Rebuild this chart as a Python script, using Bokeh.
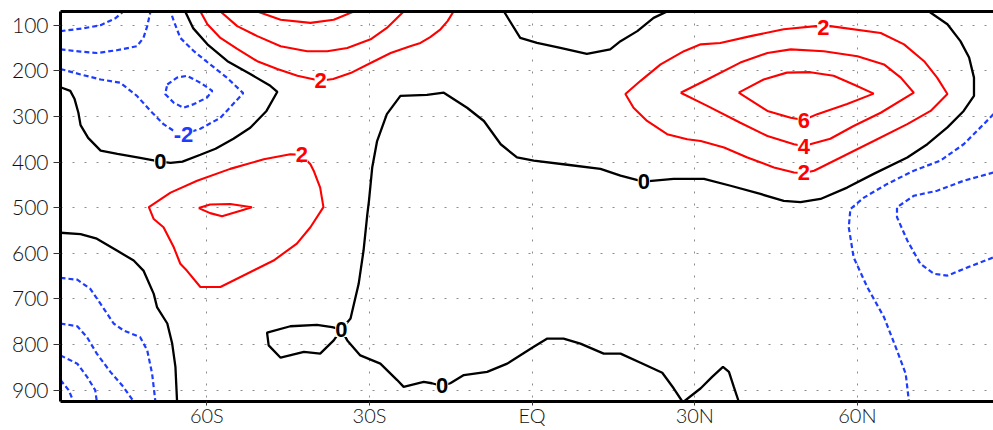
from bokeh.plotting import figure
from bokeh.models import LinearAxis, FixedTicker, Label, Range1d
from bokeh.embed import file_html
from bokeh.resources import INLINE

# ---------------- axes ----------------
lat_ticks = [-60, -30, 0, 30, 60]
lat_labels = ["60S", "30S", "EQ", "30N", "60N"]
lev_ticks = [100, 200, 300, 400, 500, 600, 700, 800, 900]

# ---------------- contour lines (latitude, pressure hPa) ----------------
# negative contours (blue dashed)
neg_a_lat = [-87.0, -82.8, -79.6, -76.9, -75.4]
neg_a_lev = [113, 107, 100, 85, 70]
neg_b_lat = [-87.0, -83.3, -80.3, -76.6, -72.9, -71.7, -71.0, -70.4]
neg_b_lev = [153, 158, 161, 155, 146, 128, 102, 70]
neg2_tl_lat = [-87.0, -83.3, -79.6, -76.0, -72.9, -70.4, -68.0, -65.8, -63.0, -61.2,
               -57.5, -53.3, -56.3, -59.4, -62.4, -64.9, -66.1, -66.7]
neg2_tl_lev = [196, 208, 219, 226, 255, 288, 317, 334, 334, 327,
               303, 249, 215, 186, 157, 128, 91, 70]
neg4_loop_lat = [-67.3, -65.5, -63.7, -61.2, -59.0, -60.0, -62.4, -64.3, -66.1, -67.7, -67.3]
neg4_loop_lev = [230, 215, 211, 226, 244, 259, 273, 281, 270, 251, 230]
neg2_sp_lat = [-87.0, -83.9, -81.5, -79.6, -77.2, -75.4, -72.3, -71.0, -70.1, -69.5]
neg2_sp_lev = [654, 658, 678, 711, 754, 769, 784, 813, 864, 925]
neg4_sp_lat = [-87.0, -83.9, -82.1, -80.3, -77.8, -75.4, -73.5]
neg4_sp_lev = [754, 760, 784, 820, 860, 893, 925]
neg6_sp_lat = [-87.0, -83.9, -82.1, -80.6, -80.3]
neg6_sp_lev = [824, 842, 871, 900, 925]
neg8_sp_lat = [-87.0, -85.5, -84.6]
neg8_sp_lev = [878, 900, 925]
neg_nh1_lat = [85.1, 83.3, 79.6, 75.3, 70.4, 65.5, 61.2, 58.7, 58.4, 59.3, 61.8, 64.9, 67.3, 68.9, 69.5]
neg_nh1_lev = [295, 317, 361, 397, 419, 448, 478, 503, 543, 609, 674, 740, 813, 864, 925]
neg_nh2_lat = [85.1, 79.6, 74.7, 70.4, 67.3, 67.3, 69.2, 71.6, 74.1, 76.6, 80.3, 85.1]
neg_nh2_lev = [423, 441, 463, 474, 499, 521, 572, 623, 645, 649, 631, 609]

# zero contours (black)
zero_tl_lat = [-87.0, -85.2, -84.4, -83.7, -83.3, -81.9, -79.6, -76.5, -72.3, -68.6, -66.7, -64.5,
               -61.2, -58.4, -55.1, -52.0, -49.0, -47.0, -48.3, -52.0, -56.2, -59.9, -62.5, -64.0]
zero_tl_lev = [236, 244, 262, 292, 319, 347, 375, 382, 391, 399, 402, 399,
               384, 371, 349, 325, 288, 246, 233, 207, 179, 142, 107, 70]
zero_sp_lat = [-87.0, -83.3, -80.3, -76.6, -73.5, -71.7, -69.8, -69.2, -67.3, -66.4, -65.8, -65.5]
zero_sp_lev = [555, 558, 568, 594, 616, 638, 689, 718, 754, 798, 849, 925]
zero_big_lat = [-35.2, -33.5, -32.0, -31.1, -30.4, -30.1, -29.5, -28.6, -26.8, -24.3, -19.4, -16.3,
                -12.0, -8.9, -5.8, -2.8, 0.3, 6.5, 12.6, 16.3, 20.5, 26.1, 31.7, 36.6, 42.1, 46.4,
                49.5, 53.2, 58.1, 63.0, 69.2, 72.9, 76.6, 79.6, 81.5, 81.5, 80.6, 79.0, 76.6, 73.2]
zero_big_lev = [767, 743, 667, 594, 514, 485, 412, 354, 295, 255, 253, 248,
                281, 310, 361, 390, 397, 406, 415, 430, 443, 437, 437, 452, 470, 485,
                488, 481, 456, 426, 390, 361, 324, 288, 255, 215, 171, 135, 98, 70]
zero_low_lat = [-35.2, -34.1, -31.7, -28.0, -24.9, -23.7, -20.0, -18.5, -16.6, -15.1, -12.6, -8.3,
                -4.6, 0.3, 2.8, 5.8, 8.9, 13.2, 16.3, 20.0, 24.0, 26.1, 27.7, 28.0, 31.1, 33.2,
                35.2, 36.3, 37.2, 38.1]
zero_low_lev = [767, 791, 824, 842, 878, 893, 882, 885, 891, 885, 867, 860,
                842, 805, 787, 787, 798, 820, 820, 840, 862, 896, 925, 925, 896, 871,
                849, 860, 893, 925]
zero_loop_lat = [-35.2, -36.9, -39.7, -44.6, -48.9, -48.6, -46.4, -42.1, -39.1, -36.6, -35.2]
zero_loop_lev = [767, 762, 757, 760, 774, 802, 829, 816, 820, 791, 767]
zero_tm_lat = [-5.2, -2.2, 0.9, 5.2, 10.1, 14.4, 16.3, 19.4, 22.4, 24.9]
zero_tm_lev = [70, 128, 139, 150, 163, 153, 135, 113, 84, 70]

# positive contours (red)
pos2_sht_lat = [-61.2, -59.9, -57.5, -54.4, -50.7, -47.0, -43.3, -39.1, -36.7, -33.5, -29.8, -26.1,
                -22.5, -20.6, -18.8, -16.9, -15.6, -14.5]
pos2_sht_lev = [70, 98, 128, 152, 179, 196, 211, 222, 218, 205, 183, 161,
                146, 139, 126, 109, 91, 70]
pos4_sht_lat = [-57.5, -54.4, -50.7, -46.4, -41.5, -37.8, -34.1, -29.8, -26.8, -23.7]
pos4_sht_lev = [70, 102, 124, 146, 157, 157, 150, 131, 106, 70]
pos6_sht_lat = [-50.7, -46.4, -40.9, -36.6, -32.9]
pos6_sht_lev = [70, 88, 95, 88, 70]
pos2_shl_lat = [-42.6, -44.6, -49.5, -55.7, -61.8, -66.7, -70.7, -69.8, -68.0, -66.1, -64.9, -63.7,
                -61.2, -57.5, -52.6, -47.7, -43.4, -40.9, -38.5, -39.1, -40.3, -40.9, -42.6]
pos2_shl_lev = [384, 383, 394, 415, 441, 467, 499, 525, 543, 587, 623, 638,
                674, 674, 645, 616, 579, 543, 499, 456, 419, 405, 384]
pos4_shl_lat = [-61.5, -59.4, -55.7, -51.7, -53.8, -57.2, -59.4, -61.5]
pos4_shl_lev = [501, 493, 492, 499, 507, 519, 512, 501]
pos2_nh_lat = [53.7, 52.3, 46.4, 40.3, 34.7, 31.1, 28.0, 23.7, 20.0, 17.2, 18.7, 21.2, 24.9, 28.6,
               31.1, 35.4, 39.7, 44.6, 48.3, 50.1, 52.0, 56.9, 63.0, 69.2, 73.5, 76.6, 74.7, 72.3,
               68.6, 64.3, 55.0, 53.7]
pos2_nh_lev = [104, 102, 109, 124, 139, 142, 157, 186, 222, 251, 281, 310, 339, 350,
               354, 368, 390, 412, 423, 424, 419, 390, 354, 317, 288, 251, 215, 179,
               142, 117, 102, 104]
pos4_nh_lat = [27.4, 32.3, 38.4, 43.4, 47.7, 53.8, 60.0, 64.9, 68.0, 70.4, 64.3, 59.3, 55.0, 50.1,
               48.3, 43.4, 38.4, 32.3, 27.4]
pos4_nh_lev = [248, 219, 182, 161, 153, 157, 168, 186, 215, 248, 292, 321, 349, 365,
               361, 343, 314, 277, 248]
pos6_nh_lat = [38.1, 42.7, 47.0, 51.3, 55.6, 59.3, 63.0, 58.1, 52.6, 50.1, 47.7, 43.4, 38.1]
pos6_nh_lev = [248, 219, 204, 203, 211, 230, 250, 273, 295, 308, 303, 288, 248]

# contour labels
lab_lat = [-64.3, -68.6, -39.0, -42.5, -35.2, -16.6, 20.6, 53.7, 50.1, 50.1, 50.1]
lab_lev = [340, 399, 222, 384, 767, 891, 443, 104, 308, 365, 424]
lab_txt = ["-2", "0", "2", "2", "0", "0", "0", "2", "6", "4", "2"]
lab_kind = ["neg", "zero", "pos", "pos", "zero", "zero", "zero", "pos", "pos", "pos", "pos"]

RED = "#ff0000"
BLUE = "#1e3cff"
BLACK = "#000000"
colors = {"neg": BLUE, "zero": BLACK, "pos": RED}

neg_lines = [(neg_a_lat, neg_a_lev), (neg_b_lat, neg_b_lev), (neg2_tl_lat, neg2_tl_lev),
             (neg4_loop_lat, neg4_loop_lev), (neg2_sp_lat, neg2_sp_lev), (neg4_sp_lat, neg4_sp_lev),
             (neg6_sp_lat, neg6_sp_lev), (neg8_sp_lat, neg8_sp_lev), (neg_nh1_lat, neg_nh1_lev),
             (neg_nh2_lat, neg_nh2_lev)]
zero_lines = [(zero_tl_lat, zero_tl_lev), (zero_sp_lat, zero_sp_lev), (zero_big_lat, zero_big_lev),
              (zero_low_lat, zero_low_lev), (zero_loop_lat, zero_loop_lev), (zero_tm_lat, zero_tm_lev)]
pos_lines = [(pos2_sht_lat, pos2_sht_lev), (pos4_sht_lat, pos4_sht_lev), (pos6_sht_lat, pos6_sht_lev),
             (pos2_shl_lat, pos2_shl_lev), (pos4_shl_lat, pos4_shl_lev), (pos2_nh_lat, pos2_nh_lev),
             (pos4_nh_lat, pos4_nh_lev), (pos6_nh_lat, pos6_nh_lev)]

p = figure(width=993, height=430, x_range=Range1d(-87.0, 85.1), y_range=Range1d(925, 70),
           output_backend="svg", toolbar_location=None,
           min_border_left=60, min_border_right=0, min_border_top=11, min_border_bottom=29)
p.outline_line_color = None
p.background_fill_color = "white"

TICK_FONT = "Lato Light"

for ax, ticks in ((p.xaxis, lat_ticks), (p.yaxis, lev_ticks)):
    ax.ticker = FixedTicker(ticks=ticks)
    ax.axis_line_width = 3
    ax.axis_line_color = "black"
    ax.major_tick_in = 0
    ax.major_tick_line_color = "#333333"
    ax.minor_tick_line_color = None
    ax.major_label_text_font = TICK_FONT
    ax.major_label_text_color = "#111111"
p.xaxis.major_label_overrides = dict(zip(lat_ticks, lat_labels))
p.xaxis.major_label_text_font_size = "20px"
p.xaxis.major_tick_out = 4
p.xaxis.major_label_standoff = -3
p.yaxis.major_label_text_font_size = "21px"
p.yaxis.major_tick_out = 7
p.yaxis.major_label_standoff = 5

top = LinearAxis(ticker=FixedTicker(ticks=[]), axis_line_width=3, axis_line_color="black",
                 major_tick_line_color=None, minor_tick_line_color=None,
                 major_label_text_font_size="0px", major_label_standoff=0)
p.add_layout(top, "above")

for g in (p.xgrid, p.ygrid):
    g.grid_line_color = "#8c8c8c"
    g.grid_line_dash = "2 10"
    g.grid_line_width = 1
p.xgrid.ticker = FixedTicker(ticks=lat_ticks)
p.ygrid.ticker = FixedTicker(ticks=lev_ticks)

for xs, ys in neg_lines:
    p.line(xs, ys, line_color=BLUE, line_width=2.2, line_dash="5 3")
for xs, ys in zero_lines:
    p.line(xs, ys, line_color=BLACK, line_width=2.3)
for xs, ys in pos_lines:
    p.line(xs, ys, line_color=RED, line_width=2.1)

for lx, ly, t, k in zip(lab_lat, lab_lev, lab_txt, lab_kind):
    p.add_layout(Label(x=lx, y=ly, text=t, text_color=colors[k], text_font="Liberation Sans",
                       text_font_size="22px", text_font_style="bold", text_align="center",
                       text_baseline="middle", background_fill_color="white"))

open("out.html", "w").write(file_html(p, INLINE))
